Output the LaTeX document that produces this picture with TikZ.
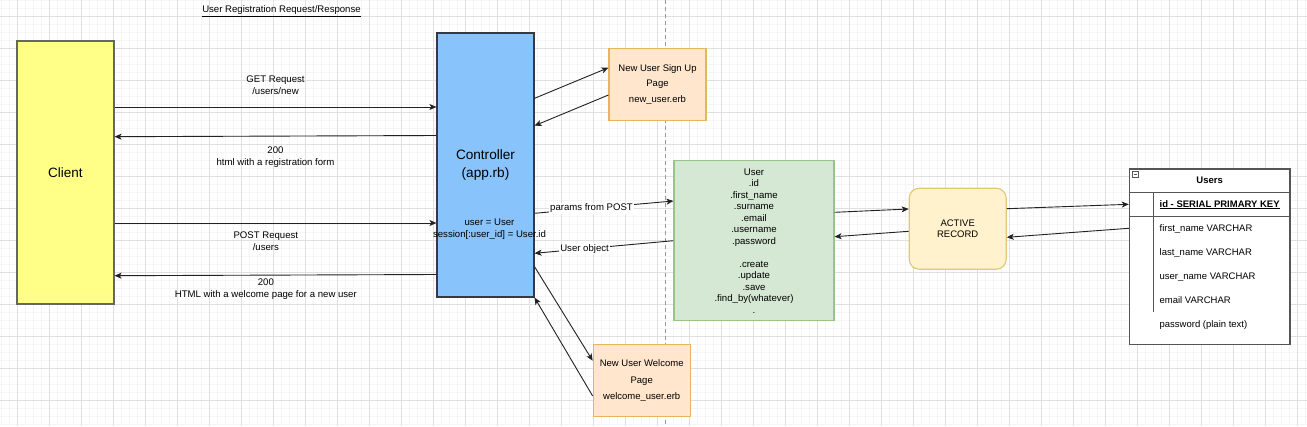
\documentclass[tikz,border=0pt]{standalone}
\usepackage{fontspec}
\setmainfont{Liberation Sans}
\usetikzlibrary{arrows.meta}

\definecolor{clientfill}{HTML}{FFFF88}
\definecolor{clientline}{HTML}{666666}
\definecolor{ctrlfill}{HTML}{88C3FC}
\definecolor{ctrlline}{HTML}{36393D}
\definecolor{pagefill}{HTML}{FFE6CC}
\definecolor{pageline}{HTML}{E8B55E}
\definecolor{userfill}{HTML}{D5E8D4}
\definecolor{userline}{HTML}{9AC486}
\definecolor{arfill}{HTML}{FFF2CC}
\definecolor{arline}{HTML}{E0C878}
\definecolor{tableline}{HTML}{555555}
\definecolor{linecol}{HTML}{222222}

\newcommand{\msgfont}{\fontsize{9.6}{12}\selectfont}
\newcommand{\pagefont}{\fontsize{9.5}{16.3}\selectfont}

\tikzstyle{minorgrid}=[draw=black!4, line width=0.8pt]
\tikzstyle{majorgrid}=[draw=black!12, line width=0.8pt]
\tikzstyle{divider}=[draw=black!40, line width=0.9pt, dash pattern=on 4pt off 3pt]
\tikzstyle{box}=[draw, line width=1.1pt, inner sep=0pt, align=center]
\tikzstyle{pagebox}=[box, draw=pageline, fill=pagefill, minimum width=97pt, minimum height=72pt, font=\pagefont]
\tikzstyle{flow}=[draw=linecol, line width=0.9pt, -{Stealth[length=7pt,width=6pt,inset=1.8pt]}]
\tikzstyle{msg}=[font=\msgfont, align=center, inner sep=0pt]
\tikzstyle{onwire}=[msg, fill=white, inner sep=1pt]
\tikzstyle{rowtext}=[font=\fontsize{9.5}{12}\selectfont, anchor=base west, inner sep=0pt]

\begin{document}
\begin{tikzpicture}[x=1pt, y=-1pt]
    \useasboundingbox (0,0) rectangle (1307,426);
    \fill[white] (0,0) rectangle (1307,426);
    % background grid
    \foreach \x in {1.3,9.3,...,1307}
        \draw[minorgrid] (\x,0) -- (\x,426);
    \foreach \y in {0.3,8.3,...,426}
        \draw[minorgrid] (0,\y) -- (1307,\y);
    \foreach \x in {17.3,49.3,...,1307}
        \draw[majorgrid] (\x,0) -- (\x,426);
    \foreach \y in {16.3,48.3,...,426}
        \draw[majorgrid] (0,\y) -- (1307,\y);
    \draw[divider] (665.3,0) -- (665.3,426);

    \node[msg, anchor=base] (title) at (281.5,12.5) {\underline{User Registration Request/Response}};

    % First we draw the boxes
    \node[box, draw=clientline, fill=clientfill, minimum width=97pt, minimum height=263pt,
          font=\fontsize{13.5}{16}\selectfont] (client) at (65.5,172.5) {Client};
    \node[box, draw=ctrlline, fill=ctrlfill, minimum width=97pt, minimum height=264pt,
          font=\fontsize{13.6}{17.3}\selectfont] (ctrl) at (485.5,165) {Controller\\(app.rb)};
    \node[msg] (ctrlcode) at ([xshift=4pt, yshift=-64pt]ctrl.center) {user = User\\session[:user\_id] = User.id};
    \node[pagebox] (signup) at (657.5,84.7) {\raisebox{-1.6pt}{New User Sign Up}\\Page\\new\_user.erb};
    \node[pagebox] (welcome) at (641.7,380.5) {New User Welcome\\Page\\welcome\_user.erb};
    \node[box, draw=userline, fill=userfill, minimum width=160pt, minimum height=160pt,
          font=\fontsize{9.6}{11.5}\selectfont] (user) at (754,240.7)
          {User\\.id\\.first\_name\\.surname\\.email\\.username\\.password\\[11.5pt]
           .create\\.update\\.save\\.find\_by(whatever)\\.};
    \node[box, rounded corners=10pt, draw=arline, fill=arfill, minimum width=97pt, minimum height=81pt,
          font=\fontsize{9.5}{11.6}\selectfont] (ar) at (957.7,228.7) {ACTIVE\\RECORD};

    % Users table
    \node[box, draw=tableline, fill=white, minimum width=160.7pt, minimum height=175.3pt] (users) at (1209.65,256.65) {};
    \node[font=\bfseries\fontsize{9.5}{12}\selectfont, inner sep=0pt] (usershead) at ([yshift=-11.7pt]users.north) {Users};
    \node[draw=tableline, line width=0.7pt, minimum size=6pt, inner sep=0pt] (collapse) at ([xshift=6.7pt, yshift=-6pt]users.north west) {};
    \draw[tableline, line width=0.7pt] ([xshift=1.4pt]collapse.west) -- ([xshift=-1.4pt]collapse.east);
    \draw[tableline, line width=1.1pt] ([yshift=-23.7pt]users.north west) -- ([yshift=-23.7pt]users.north east);
    \draw[tableline, line width=1.1pt] ([yshift=-47.7pt]users.north west) -- ([yshift=-47.7pt]users.north east);
    \draw[tableline, line width=1.1pt] ([xshift=24.4pt, yshift=-23.7pt]users.north west) -- ([xshift=24.4pt, yshift=-143.7pt]users.north west);
    \node[rowtext, font=\bfseries\fontsize{9.5}{12}\selectfont] (row0) at ([xshift=30.7pt, yshift=-38.7pt]users.north west) {\underline{id - SERIAL PRIMARY KEY}};
    \foreach \i/\off/\txt in {1/63.3/first\_name VARCHAR, 2/87.2/last\_name VARCHAR, 3/111.3/user\_name VARCHAR,
                              4/134.9/email VARCHAR, 5/158.8/password (plain text)}
        \node[rowtext] (row\i) at ([xshift=30.7pt, yshift=-\off pt]users.north west) {\txt};

    % Connect boxes with arrows and draw messages
    \draw[flow] ([yshift=65.5pt]client.east) -- node[msg, midway, yshift=22.3pt] (getmsg) {GET Request\\/users/new} ([yshift=58pt]ctrl.west);
    \draw[flow] ([yshift=29.5pt]ctrl.west) -- node[msg, midway, yshift=-20.7pt] (formmsg) {200\\html with a registration form} ([yshift=35.8pt]client.east);
    \draw[flow] ([yshift=-50.5pt]client.east) -- node[msg, pos=0.47, yshift=-17.7pt] (postmsg) {POST Request\\/users} ([yshift=-58pt]ctrl.west);
    \draw[flow] ([yshift=-109.5pt]ctrl.west) -- node[msg, pos=0.53, yshift=-13.7pt] (welcomemsg) {200\\HTML with a welcome page for a new user} ([yshift=-103.2pt]client.east);

    \draw[flow] ([yshift=66.7pt]ctrl.east) -- ([yshift=17pt]signup.west);
    \draw[flow] ([yshift=-10.3pt]signup.west) -- ([yshift=39.3pt]ctrl.east);
    \draw[flow] ([yshift=-48.3pt]ctrl.east) -- node[onwire, pos=0.41] (paramsmsg) {params from POST} ([yshift=39.7pt]user.west);
    \draw[flow] (user.west) -- node[onwire, pos=0.64] (objmsg) {User object} ([yshift=-88.3pt]ctrl.east);
    \draw[flow] ([yshift=-101.7pt]ctrl.east) -- ([yshift=19.8pt]welcome.west);
    \draw[flow] ([yshift=-15.5pt]welcome.west) -- (ctrl.south east);

    \draw[flow] ([yshift=28.4pt]user.east) -- ([yshift=19.7pt]ar.west);
    \draw[flow] ([yshift=-2.6pt]ar.west) -- ([yshift=4pt]user.east);
    \draw[flow] ([yshift=20pt]ar.east) -- ([yshift=52.35pt]users.west);
    \draw[flow] ([yshift=28.35pt]users.west) -- ([yshift=-8.6pt]ar.east);
\end{tikzpicture}
\end{document}
